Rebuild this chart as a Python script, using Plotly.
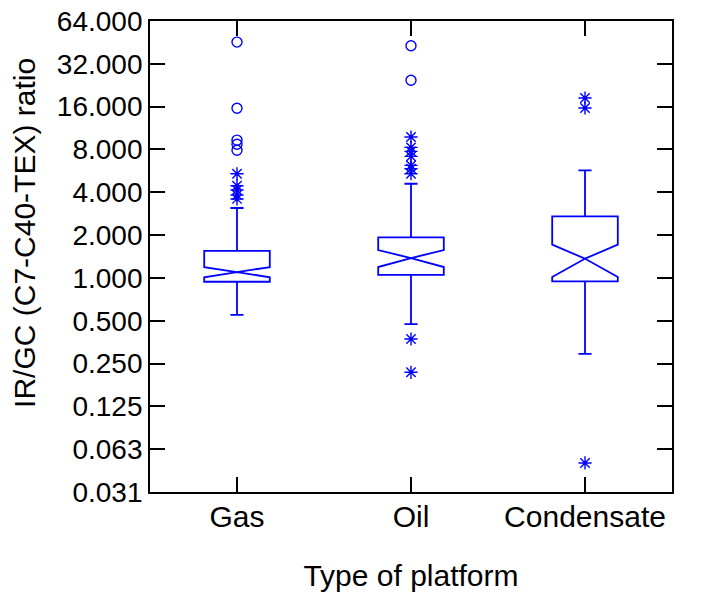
import plotly.graph_objects as go

# ---- data ----
categories = ["Gas", "Oil", "Condensate"]
q1 = [0.94, 1.05, 0.945]
median = [1.10, 1.38, 1.365]
q3 = [1.55, 1.93, 2.71]
lower_whisker = [0.55, 0.474, 0.292]
upper_whisker = [3.10, 4.59, 5.70]
notch_span = [0.09, 0.187, 0.35]

# far outliers (circles)
gas_far = [45.5, 15.6, 9.3, 8.7, 7.9]
oil_far = [42.9, 24.5]
cond_far = []
# outside values (asterisks)
gas_out = [5.4, 4.45, 4.15, 3.83, 3.59]
oil_out = [9.79, 8.27, 7.76, 7.15, 6.18, 5.86, 5.40, 0.372, 0.217]
cond_out = [18.4, 15.65, 0.050]

y_tick_vals = [0.03125, 0.0625, 0.125, 0.25, 0.5, 1, 2, 4, 8, 16, 32, 64]
y_tick_text = ["0.031", "0.063", "0.125", "0.250", "0.500", "1.000",
               "2.000", "4.000", "8.000", "16.000", "32.000", "64.000"]

BLUE = "#0000FF"
FONT = "Liberation Sans, Arial, sans-serif"

fig = go.Figure()
fig.add_trace(go.Box(
    x=categories, q1=q1, median=median, q3=q3,
    lowerfence=lower_whisker, upperfence=upper_whisker,
    notchspan=notch_span, notched=True, notchwidth=0.5,
    boxpoints=False, width=0.377, whiskerwidth=0.2,
    line=dict(color=BLUE, width=1.8), fillcolor="rgba(0,0,0,0)",
    showlegend=False, hoverinfo="skip",
))

far_x, far_y, out_x, out_y = [], [], [], []
for cat, far, out in zip(categories, [gas_far, oil_far, cond_far], [gas_out, oil_out, cond_out]):
    far_x += [cat] * len(far); far_y += far
    out_x += [cat] * len(out); out_y += out

fig.add_trace(go.Scatter(
    x=far_x, y=far_y, mode="markers", showlegend=False,
    marker=dict(symbol="circle-open", size=10, color=BLUE, line=dict(width=1.4, color=BLUE)),
))
fig.add_trace(go.Scatter(
    x=out_x, y=out_y, mode="markers", showlegend=False,
    marker=dict(symbol="asterisk-open", size=11, color=BLUE, line=dict(width=1.4, color=BLUE)),
))

axis_common = dict(
    showline=True, linecolor="black", linewidth=1.8, mirror="ticks",
    ticks="inside", ticklen=15, tickwidth=1.8, tickcolor="black",
    showgrid=False, zeroline=False, automargin=False,
    ticklabeloverflow="allow",
)

fig.update_layout(
    width=707, height=592,
    margin=dict(l=150, r=35, t=21, b=100, autoexpand=False),
    paper_bgcolor="white", plot_bgcolor="white",
    font=dict(family=FONT, color="black"),
    xaxis=dict(
        **axis_common, type="category", range=[-0.5, 2.5],
        categoryorder="array", categoryarray=categories,
        tickfont=dict(family=FONT, size=30, color="black"),
        ticklabelstandoff=-3,
        title=dict(text="Type of platform", font=dict(family=FONT, size=30, color="black"), standoff=34),
    ),
    yaxis=dict(
        **axis_common, type="log",
        range=[-5 * 0.30103, 6 * 0.30103],
        tickvals=y_tick_vals, ticktext=y_tick_text,
        tickfont=dict(family=FONT, size=28, color="black"),
        ticklabelstandoff=0,
    ),
    annotations=[dict(
        text="IR/GC (C7-C40-TEX) ratio", textangle=-90,
        xref="paper", yref="paper", x=-0.2395, y=0.55,
        xanchor="center", yanchor="middle", showarrow=False,
        font=dict(family=FONT, size=30, color="black"),
    )],
)

# remove the default 8px page margin so the figure fills the window exactly
fig.write_html("out.html", config={"displayModeBar": False},
               post_script="document.body.style.margin='0';")
